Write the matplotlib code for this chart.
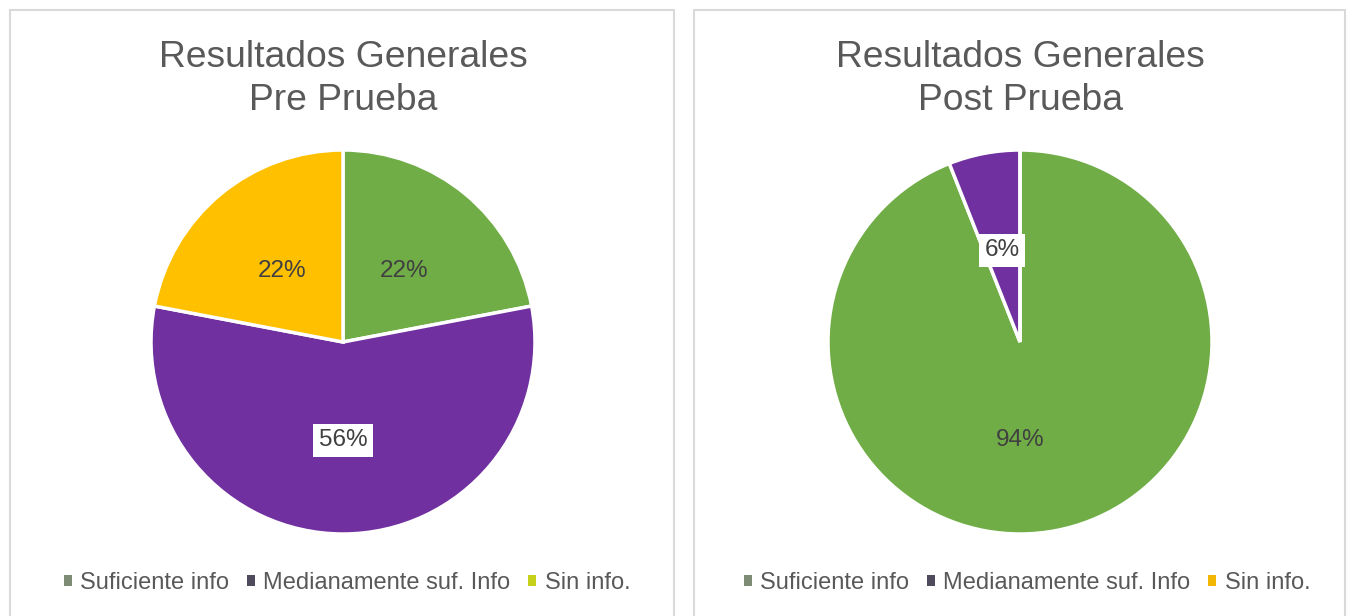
import matplotlib
matplotlib.use('Agg')
import matplotlib.pyplot as plt
import numpy as np
from matplotlib.patches import Rectangle, Patch

plt.rcParams['font.family'] = ['Liberation Sans', 'DejaVu Sans']

# datos
categorias = ['Suficiente info', 'Medianamente suf. Info', 'Sin info.']
pre_prueba = [22, 56, 22]
post_prueba = [94, 6, 0]
titulos = ['Resultados Generales\nPre Prueba', 'Resultados Generales\nPost Prueba']

colores_pie = ['#70ad47', '#7030a0', '#ffc000']
# los marcadores de la leyenda no coinciden con el pastel en el original
ley_izq = ['#7f8c75', '#4f4b5c', '#c5d11a']
ley_der = ['#7f8c75', '#4f4b5c', '#f2b705']

W, H = 1351, 616
fig = plt.figure(figsize=(W / 100, H / 100), dpi=100)
fig.patch.set_facecolor('white')

# marcos de los dos paneles
for x0, x1 in [(10, 674), (694, 1345)]:
    fig.patches.append(Rectangle((x0 / W, -2 / H), (x1 - x0) / W, (608) / H,
                                 transform=fig.transFigure, facecolor='none',
                                 edgecolor='#d9d9d9', linewidth=1.5, zorder=-5))


def dibujar(cx, valores, titulo, col_ley, leg_x):
    r = 192
    ax = fig.add_axes([(cx - r) / W, (H - 342 - r) / H, 2 * r / W, 2 * r / H])
    ax.patch.set_alpha(0)
    ax.pie(valores, colors=colores_pie, startangle=90, counterclock=False,
           radius=1, wedgeprops=dict(edgecolor='white', linewidth=2.5))
    # etiquetas de porcentaje
    total = sum(valores)
    ang = 90.0
    for i, v in enumerate(valores):
        if v == 0:
            continue
        mid = ang - 360.0 * v / total / 2
        ang -= 360.0 * v / total
        if v > 75:
            mid = -90.0   # excel lo deja centrado abajo
        x = 0.5 * np.cos(np.radians(mid))
        y = 0.5 * np.sin(np.radians(mid))
        bbox = None
        if i == 1:
            bbox = dict(facecolor='white', edgecolor='none', pad=4)
        ax.text(x, y, f'{v}%', ha='center', va='center_baseline', fontsize=17.5,
                color='#404040', bbox=bbox)
    ax.set_xlim(-1.0, 1.0)
    ax.set_ylim(-1.0, 1.0)
    ax.set_aspect('equal')
    fig.text(cx / W, 1 - 79 / H, titulo, ha='center', va='center', fontsize=26.8,
             color='#595959', linespacing=1.3)
    handles = [Patch(facecolor=c, edgecolor='none') for c in col_ley]
    fig.legend(handles, categorias, loc='center', bbox_to_anchor=(leg_x / W, 1 - 583 / H),
               ncol=3, frameon=False, fontsize=17, labelcolor='#595959',
               handlelength=0.35, handleheight=0.35, handletextpad=0.35,
               columnspacing=0.75)


dibujar(343, pre_prueba, titulos[0], ley_izq, 347)
dibujar(1020, post_prueba, titulos[1], ley_der, 1027)

plt.savefig('out.png', dpi=100)
